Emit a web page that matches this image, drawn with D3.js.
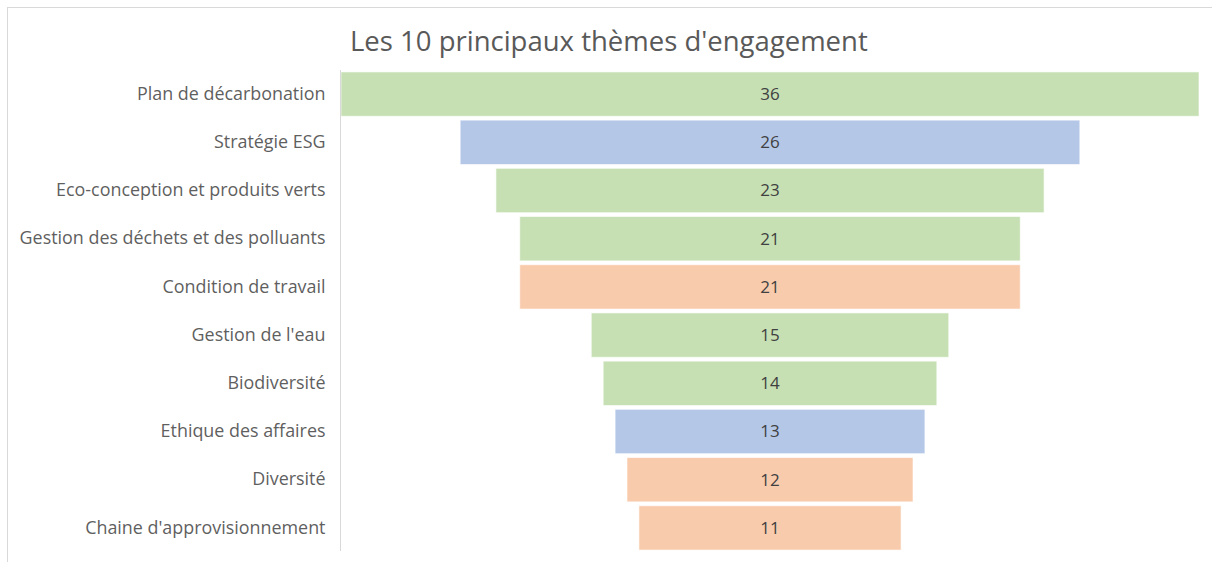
<!DOCTYPE html>
<html>
<head>
<meta charset="utf-8">
<script src="https://cdnjs.cloudflare.com/ajax/libs/d3/7.8.5/d3.min.js"></script>
<style>
  body { margin: 0; background: #fff; }
  svg text { font-family: "Open Sans", "Noto Sans", sans-serif; }
</style>
</head>
<body>
<div id="chart"></div>
<script>
// data
var themes = ["Plan de décarbonation", "Stratégie ESG", "Eco-conception et produits verts",
  "Gestion des déchets et des polluants", "Condition de travail", "Gestion de l'eau",
  "Biodiversité", "Ethique des affaires", "Diversité", "Chaine d'approvisionnement"];
var counts = [36, 26, 23, 21, 21, 15, 14, 13, 12, 11];
var groups = ["E", "G", "E", "E", "S", "E", "E", "G", "S", "S"];

var width = 1212, height = 562;
var colors = {E: "#c6e0b4", G: "#b4c7e7", S: "#f8cbad"};

var svg = d3.select("#chart").append("svg")
  .attr("width", width)
  .attr("height", height);

// chart frame
svg.append("rect")
  .attr("x", 7.5).attr("y", 7.5)
  .attr("width", width + 10).attr("height", height + 10)
  .attr("fill", "none")
  .attr("stroke", "#d9d9d9");

svg.append("text")
  .attr("x", 350)
  .attr("y", 51)
  .attr("fill", "#595959")
  .style("font-size", "27.5px")
  .text("Les 10 principaux thèmes d'engagement");

var plotLeft = 341, plotRight = 1199;
var center = (plotLeft + plotRight) / 2;

var w = d3.scaleLinear()
  .domain([0, d3.max(counts)])
  .range([0, plotRight - plotLeft]);

var y = d3.scaleBand()
  .domain(themes)
  .range([70, 552])
  .paddingInner(0.08)
  .paddingOuter(0.04);

var rows = themes.map(function(t, i) { return {name: t, value: counts[i], group: groups[i]}; });

svg.selectAll(".bar")
  .data(rows)
  .enter().append("rect")
  .attr("class", "bar")
  .attr("x", function(d) { return center - w(d.value) / 2; })
  .attr("y", function(d) { return y(d.name); })
  .attr("width", function(d) { return w(d.value); })
  .attr("height", y.bandwidth())
  .attr("fill", function(d) { return colors[d.group]; })
  .attr("stroke", "#ffffff")
  .attr("stroke-opacity", 0.6)
  .attr("stroke-width", 1);

svg.selectAll(".val")
  .data(rows)
  .enter().append("text")
  .attr("class", "val")
  .attr("x", center)
  .attr("y", function(d) { return y(d.name) + y.bandwidth() / 2; })
  .attr("dy", "0.35em")
  .attr("text-anchor", "middle")
  .attr("fill", "#404040")
  .style("font-size", "17px")
  .text(function(d) { return d.value; });

// category axis
var axis = d3.axisLeft(y).tickSize(0).tickPadding(15);
var g = svg.append("g")
  .attr("transform", "translate(340.5,0)")
  .call(axis);
g.select(".domain").attr("stroke", "#d9d9d9").attr("d", "M0,70V551");
g.selectAll("text")
  .attr("fill", "#5f5f5f")
  .style("font-size", "17.9px")
  .style("font-family", "'Open Sans', 'Noto Sans', sans-serif");
</script>
</body>
</html>
